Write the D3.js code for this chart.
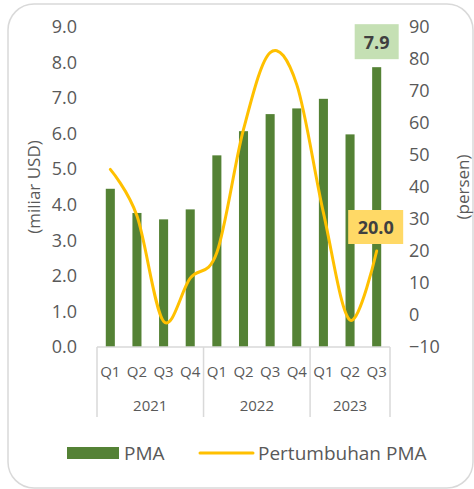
<!DOCTYPE html>
<html>
<head>
<meta charset="utf-8">
<script src="https://cdn.jsdelivr.net/npm/d3@7"></script>
<style>
  html, body { margin: 0; padding: 0; background: #fff; }
  svg { display: block; font-family: 'Open Sans', sans-serif; }
</style>
</head>
<body>
<div id="chart"></div>
<script>
// Data
const quarters = ['Q1', 'Q2', 'Q3', 'Q4', 'Q1', 'Q2', 'Q3', 'Q4', 'Q1', 'Q2', 'Q3'];
const years = ['2021', '2021', '2021', '2021', '2022', '2022', '2022', '2022', '2023', '2023', '2023'];
const pma = [4.45, 3.77, 3.59, 3.87, 5.39, 6.07, 6.55, 6.71, 6.98, 5.98, 7.87];
const growth = [45.5, 31, -2, 11.5, 19.5, 58, 82, 72, 32, -1.6, 20.0];
const leftTicks = [0, 1, 2, 3, 4, 5, 6, 7, 8, 9];
const rightTicks = [-10, 0, 10, 20, 30, 40, 50, 60, 70, 80, 90];

const W = 474, H = 489;
const plot = { left: 97, right: 390, top: 27, bottom: 347 };
const textColor = '#595959';
const barColor = '#548235';
const lineColor = '#ffc000';
const axisColor = '#d9d9d9';

const svg = d3.select('#chart').append('svg')
  .attr('width', W)
  .attr('height', H);

// Rounded chart border
svg.append('rect')
  .attr('x', 8).attr('y', 4)
  .attr('width', W - 9).attr('height', H - 5)
  .attr('rx', 26).attr('ry', 26)
  .attr('fill', 'none')
  .attr('stroke', axisColor)
  .attr('stroke-width', 1.5);

// Scales
const idx = d3.range(pma.length);
const x = d3.scaleBand()
  .domain(idx)
  .range([plot.left, plot.right])
  .paddingInner(0.66)
  .paddingOuter(0.33);

const yLeft = d3.scaleLinear().domain([0, 9]).range([plot.bottom, plot.top]);
const yRight = d3.scaleLinear().domain([-10, 90]).range([plot.bottom, plot.top]);

const cx = i => x(i) + x.bandwidth() / 2;
const edge = i => cx(i) - x.step() / 2;

// Left axis
const leftAxis = svg.append('g')
  .attr('transform', `translate(${plot.left - 20},0)`)
  .call(d3.axisLeft(yLeft).tickValues(leftTicks).tickFormat(d3.format('.1f')).tickSize(0).tickPadding(0));
leftAxis.select('.domain').remove();
leftAxis.selectAll('text')
  .attr('fill', textColor)
  .attr('font-size', '18px')
  .attr('font-family', "'Open Sans', sans-serif");

// Right axis
const rightAxis = svg.append('g')
  .attr('transform', `translate(${plot.right + 19},0)`)
  .call(d3.axisRight(yRight).tickValues(rightTicks).tickFormat(d3.format('d')).tickSize(0).tickPadding(0));
rightAxis.select('.domain').remove();
rightAxis.selectAll('text')
  .attr('fill', textColor)
  .attr('font-size', '18px')
  .attr('font-family', "'Open Sans', sans-serif");

// Axis titles
svg.append('text')
  .attr('transform', `translate(33,${(plot.top + plot.bottom) / 2}) rotate(-90)`)
  .attr('text-anchor', 'middle')
  .attr('dominant-baseline', 'central')
  .attr('fill', textColor)
  .attr('font-size', '17px')
  .text('(miliar USD)');

svg.append('text')
  .attr('transform', `translate(462,${(plot.top + plot.bottom) / 2}) rotate(-90)`)
  .attr('text-anchor', 'middle')
  .attr('dominant-baseline', 'central')
  .attr('fill', textColor)
  .attr('font-size', '17px')
  .text('(persen)');

// Bars
svg.selectAll('.bar')
  .data(pma)
  .enter()
  .append('rect')
  .attr('class', 'bar')
  .attr('x', (d, i) => x(i))
  .attr('y', d => yLeft(d))
  .attr('width', x.bandwidth())
  .attr('height', d => yLeft(0) - yLeft(d))
  .attr('fill', barColor);

// Category axis (multi-level)
svg.append('line')
  .attr('x1', plot.left).attr('x2', plot.right)
  .attr('y1', plot.bottom).attr('y2', plot.bottom)
  .attr('stroke', axisColor).attr('stroke-width', 1.5);

const groupStarts = idx.filter(i => i === 0 || years[i] !== years[i - 1]);
const boundaries = groupStarts.map(edge).concat([edge(pma.length - 1) + x.step()]);
svg.selectAll('.sep')
  .data(boundaries)
  .enter()
  .append('line')
  .attr('class', 'sep')
  .attr('x1', d => d).attr('x2', d => d)
  .attr('y1', plot.bottom).attr('y2', plot.bottom + 70)
  .attr('stroke', axisColor).attr('stroke-width', 1.5);

svg.selectAll('.qlabel')
  .data(quarters)
  .enter()
  .append('text')
  .attr('class', 'qlabel')
  .attr('x', (d, i) => cx(i))
  .attr('y', plot.bottom + 24)
  .attr('text-anchor', 'middle')
  .attr('dominant-baseline', 'central')
  .attr('fill', textColor)
  .attr('font-size', '15px')
  .text(d => d);

const yearGroups = groupStarts.map(s => {
  const members = idx.filter(i => years[i] === years[s]);
  return { year: years[s], mid: (edge(members[0]) + edge(members[members.length - 1]) + x.step()) / 2 };
});
svg.selectAll('.ylabel')
  .data(yearGroups)
  .enter()
  .append('text')
  .attr('class', 'ylabel')
  .attr('x', d => d.mid)
  .attr('y', plot.bottom + 58)
  .attr('text-anchor', 'middle')
  .attr('dominant-baseline', 'central')
  .attr('fill', textColor)
  .attr('font-size', '15px')
  .text(d => d.year);

// Growth line (smoothed)
const line = d3.line()
  .x((d, i) => cx(i))
  .y(d => yRight(d))
  .curve(d3.curveCardinal.tension(0));

svg.append('path')
  .datum(growth)
  .attr('d', line)
  .attr('fill', 'none')
  .attr('stroke', lineColor)
  .attr('stroke-width', 3)
  .attr('stroke-linecap', 'round');

// Data labels for the last point
const last = pma.length - 1;
function dataLabel(cxv, bottomY, w, h, fill, txt) {
  svg.append('rect')
    .attr('x', cxv - w / 2).attr('y', bottomY - h)
    .attr('width', w).attr('height', h)
    .attr('fill', fill);
  svg.append('text')
    .attr('x', cxv).attr('y', bottomY - h / 2)
    .attr('text-anchor', 'middle')
    .attr('dominant-baseline', 'central')
    .attr('fill', '#404040')
    .attr('font-size', '18px')
    .attr('font-weight', 'bold')
    .text(txt);
}
dataLabel(cx(last), yLeft(pma[last]) - 8, 44, 35, '#c5e0b4', d3.format('.1f')(pma[last]));
dataLabel(cx(last) - 1, yRight(growth[last]) - 7, 55, 34, '#ffd966', d3.format('.1f')(growth[last]));

// Legend
const legend = svg.append('g').attr('transform', 'translate(0,453)');
legend.append('rect')
  .attr('x', 67).attr('y', -6)
  .attr('width', 52).attr('height', 12)
  .attr('fill', barColor);
legend.append('text')
  .attr('x', 124).attr('y', 0)
  .attr('dominant-baseline', 'central')
  .attr('fill', textColor)
  .attr('font-size', '19px')
  .text('PMA');
legend.append('line')
  .attr('x1', 200).attr('x2', 253)
  .attr('y1', 0).attr('y2', 0)
  .attr('stroke', lineColor)
  .attr('stroke-width', 3)
  .attr('stroke-linecap', 'round');
legend.append('text')
  .attr('x', 258).attr('y', 0)
  .attr('dominant-baseline', 'central')
  .attr('fill', textColor)
  .attr('font-size', '19px')
  .text('Pertumbuhan PMA');
</script>
</body>
</html>
